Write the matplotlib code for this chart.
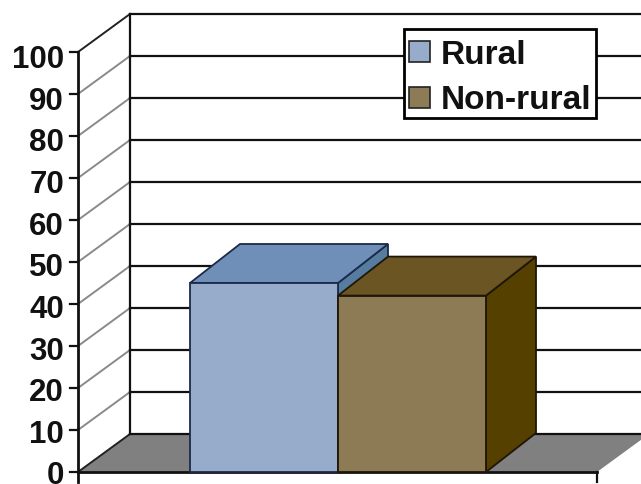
import matplotlib
matplotlib.use("Agg")
import matplotlib.pyplot as plt
from matplotlib.patches import Polygon, Rectangle
import numpy as np

# Values
categories = ["Rural", "Non-rural"]
values = [45, 42]
yticks = list(range(0, 101, 10))

front_colors = ["#97ABCB", "#8C7B55"]
top_colors = ["#708FB8", "#6B5522"]
side_colors = ["#567CA0", "#564000"]
edge_colors = ["#1A2A48", "#1E1608"]

plt.rcParams["font.family"] = ["Liberation Sans", "DejaVu Sans"]

fig = plt.figure(figsize=(6.41, 4.85), dpi=100)
ax = fig.add_axes([0, 0, 1, 1])

# 4.2 px per unit, value 0 sits on pixel row 473
scale = 4.2
base = 473
ax.set_xlim(0, 641)
ax.set_ylim((base - 485) / scale, base / scale)
ax.axis("off")

x_left = 78
x_right = 597
dx = 52
dy = 38 / scale
bar_w = 148
bar_x = [190, 338]
bar_dx = 50
bar_dy = 39 / scale

# -------------------------
# Floor and walls
# -------------------------
ax.add_patch(Polygon([(x_left, 0), (x_right, 0), (x_right + dx, dy), (x_left + dx, dy)],
                     closed=True, facecolor="#808080", edgecolor="none", zorder=1))
for v in yticks:
    ax.plot([x_left, x_left + dx], [v, v + dy], color="#8A8A8A" if 0 < v < 100 else "#222222",
            lw=1.4, zorder=2)
    ax.plot([x_left + dx, 641], [v + dy, v + dy], color="#111111", lw=1.6, zorder=2)
    ax.plot([x_left - 8, x_left], [v, v], color="#111111", lw=1.6, zorder=3)
    # labels drift a little against the ticks in the original
    label_drop = 11.5 + 0.035 * v
    ax.text(64, v - label_drop / scale, str(v), ha="right", va="baseline", fontsize=22.5,
            fontweight="bold", color="#111111", zorder=3)
ax.plot([x_left, x_left], [-10 / scale, 100], color="#111111", lw=2, zorder=3)
ax.plot([x_left + dx, x_left + dx], [dy, 100 + dy], color="#111111", lw=1.6, zorder=2)
ax.plot([x_left, x_right], [0, 0], color="#111111", lw=2, zorder=3)
ax.plot([x_right, x_right], [-10 / scale, 0], color="#111111", lw=1.6, zorder=3)

# -------------------------
# Bars
# -------------------------
for i, v in enumerate(values):
    x0 = bar_x[i]
    x1 = x0 + bar_w
    z = 4 + i
    ax.add_patch(Polygon([(x1, 0), (x1 + bar_dx, bar_dy), (x1 + bar_dx, v + bar_dy), (x1, v)],
                         closed=True, facecolor=side_colors[i], edgecolor=edge_colors[i], lw=1.3, zorder=z))
    ax.add_patch(Polygon([(x0, v), (x1, v), (x1 + bar_dx, v + bar_dy), (x0 + bar_dx, v + bar_dy)],
                         closed=True, facecolor=top_colors[i], edgecolor=edge_colors[i], lw=1.3, zorder=z))
    ax.add_patch(Rectangle((x0, 0), bar_w, v, facecolor=front_colors[i], edgecolor=edge_colors[i],
                           lw=1.3, zorder=z))

# -------------------------
# Legend box
# -------------------------
def row(p):
    return (base - p) / scale

ax.add_patch(Rectangle((404, row(119)), 192, row(30) - row(119), facecolor="white",
                       edgecolor="black", lw=2, zorder=8))
swatch_top = [42, 88]
text_base = [64, 109]
for i, name in enumerate(categories):
    ax.add_patch(Rectangle((409, row(swatch_top[i] + 21)), 21, 21 / scale, facecolor=front_colors[i],
                           edgecolor="#222222", lw=1.2, zorder=9))
    ax.text(441, row(text_base[i]), name, ha="left", va="baseline", fontsize=24, fontweight="bold",
            color="#111111", zorder=9)

fig.savefig("out.png", dpi=100)
